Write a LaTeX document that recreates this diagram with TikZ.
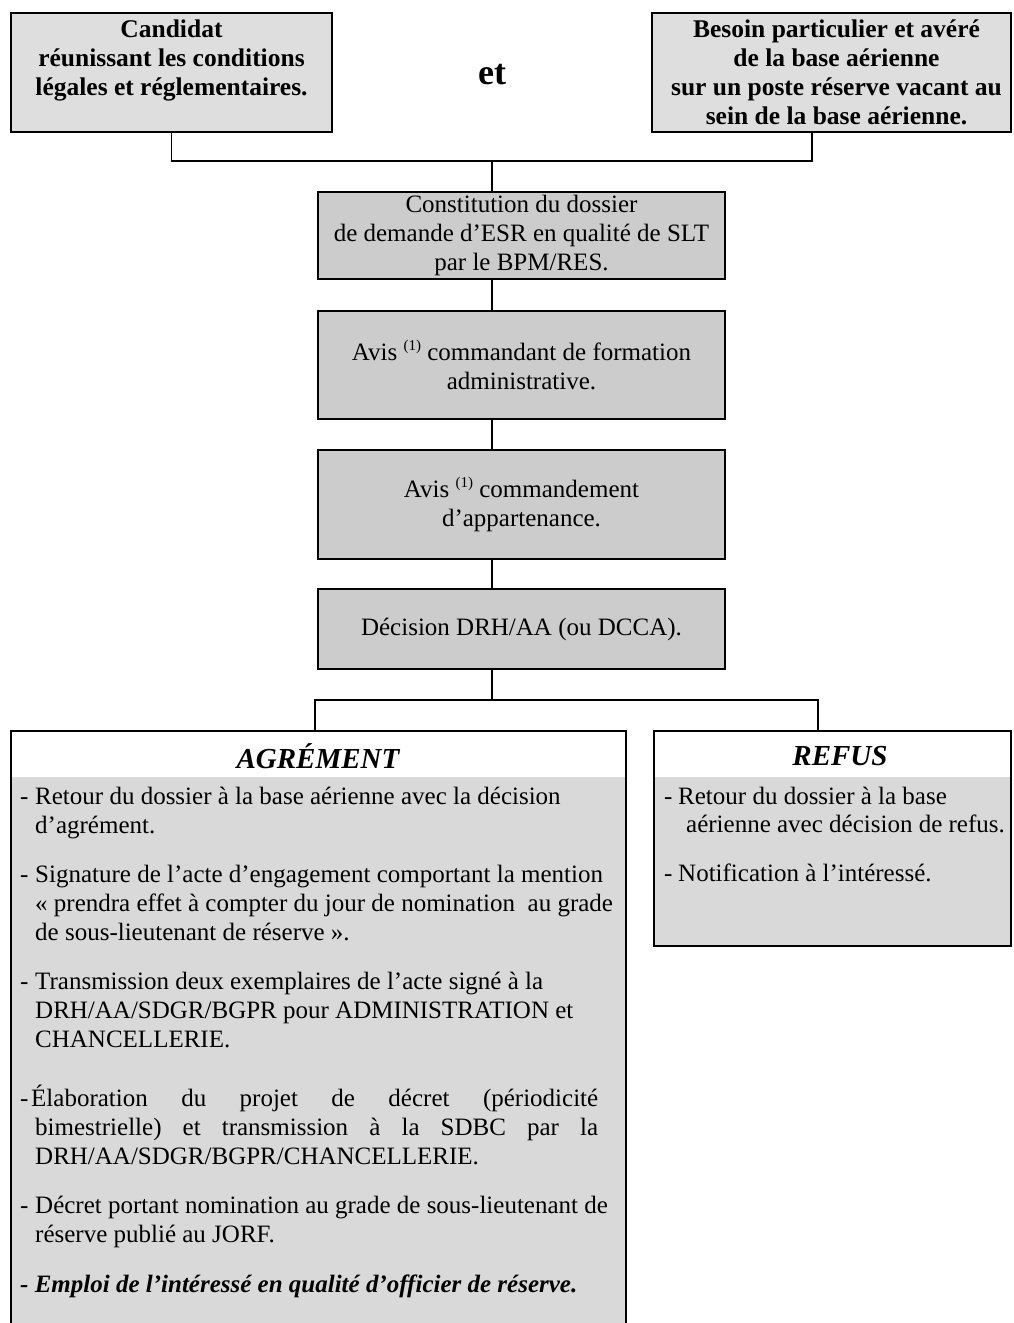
\documentclass[tikz,border=0pt]{standalone}
\usepackage{fontspec}
\setmainfont{Liberation Serif}
\usetikzlibrary{backgrounds}
\definecolor{topgray}{RGB}{222,222,222}
\definecolor{midgray}{RGB}{204,204,204}
\definecolor{bodygray}{RGB}{217,217,217}
\newcommand{\supone}{\raisebox{10pt}{\fontsize{15}{15}\selectfont(1)}}
\begin{document}
\begin{tikzpicture}[x=1pt,y=-1pt,
  boxline/.style={draw=black, line width=1.6pt},
  topbox/.style={boxline, fill=topgray, inner sep=0pt, align=center,
    font=\fontsize{25.5}{29}\selectfont\bfseries},
  midbox/.style={boxline, fill=midgray, inner sep=0pt, align=center,
    minimum width=407pt, font=\fontsize{25}{29}\selectfont},
  bigbox/.style={boxline, inner sep=0pt},
  conn/.style={line width=1.6pt},
  hdr/.style={inner sep=0pt, font=\fontsize{29}{32}\selectfont\bfseries\itshape},
  txt/.style={anchor=base west, inner sep=0pt, font=\fontsize{25}{29}\selectfont},
  txtbi/.style={txt, font=\fontsize{25}{29}\selectfont\bfseries\itshape}
]
\useasboundingbox (0,0) rectangle (1013,1323);

% top boxes
\node[topbox, minimum width=321pt, minimum height=119pt] (tl) at (171.5,72.5)
  {Candidat\\réunissant les conditions\\légales et réglementaires.\\\mbox{}};
\node[topbox, minimum width=359pt, minimum height=119pt] (tr) at (831.5,72.5)
  {\hspace*{10pt}Besoin particulier et avéré\\\hspace*{10pt}de la base aérienne\\\hspace*{10pt}sur un poste réserve vacant au\\\hspace*{10pt}sein de la base aérienne.};
\node[inner sep=0pt, font=\fontsize{36}{40}\selectfont\bfseries] (et) at (492,75) {et};

% middle chain
\node[midbox, minimum height=87pt] (b1) at (521.5,235.5)
  {Constitution du dossier\\de demande d’ESR en qualité de SLT\\par le BPM/RES.};
\node[midbox, minimum height=108pt] (b2) at (521.5,365)
  {Avis \supone{} commandant de formation\\administrative.};
\node[midbox, minimum height=109pt] (b3) at (521.5,504.5)
  {Avis \supone{} commandement\\d’appartenance.};
\node[midbox, minimum height=80pt] (b4) at (521.5,629)
  {Décision DRH/AA (ou DCCA).};

% bottom boxes
\node[bigbox, minimum width=615pt, minimum height=609pt] (ag) at (318.5,1035.5) {};
\node[bigbox, minimum width=357pt, minimum height=215pt] (rf) at (832.5,838.5) {};
\begin{scope}[on background layer]
  \fill[bodygray] ([yshift=-47pt]ag.north west) rectangle (ag.south east);
  \fill[bodygray] ([yshift=-47pt]rf.north west) rectangle (rf.south east);
\end{scope}
\node[hdr] (agh) at (318,756) {AGRÉMENT};
\node[hdr] (rfh) at (840,756) {REFUS};

% connector coordinates
\coordinate (jt) at (492,161);
\coordinate (trx) at (812,132);
\coordinate (jb) at (492,700);
\coordinate (agx) at (315,731);
\coordinate (rfx) at (818,731);

\draw[conn] (tl.south) |- (jt) -| (trx);
\draw[conn] (jt) -- (jt |- b1.north);
\draw[conn] (b1.south -| jt) -- (b2.north -| jt);
\draw[conn] (b2.south -| jt) -- (b3.north -| jt);
\draw[conn] (b3.south -| jt) -- (b4.north -| jt);
\draw[conn] (b4.south -| jt) -- (jb);
\draw[conn] (agx) |- (jb) -| (rfx);

% AGREMENT text
\node[txt] (d1) at (20,804) {-};
\node[txt] (a1a) at (35,804) {Retour du dossier à la base aérienne avec la décision};
\node[txt] (a1b) at (35,833) {d’agrément.};
\node[txt] (d2) at (20,882) {-};
\node[txt] (a2a) at (35,882) {Signature de l’acte d’engagement comportant la mention};
\node[txt] (a2b) at (35,911) {« prendra effet à compter du jour de nomination \ au grade};
\node[txt] (a2c) at (35,940) {de sous-lieutenant de réserve ».};
\node[txt] (d3) at (20,989) {-};
\node[txt] (a3a) at (35,989) {Transmission deux exemplaires de l’acte signé à la};
\node[txt] (a3b) at (35,1018) {DRH/AA/SDGR/BGPR pour ADMINISTRATION et};
\node[txt] (a3c) at (35,1047) {CHANCELLERIE.};
\node[txt] (d4) at (20,1106) {-};
\node[txt] (a4a) at (31,1106) {\makebox[567pt][s]{Élaboration du projet de décret (périodicité}};
\node[txt] (a4b) at (35,1135) {\makebox[563pt][s]{bimestrielle) et transmission à la SDBC par la}};
\node[txt] (a4c) at (35,1164) {DRH/AA/SDGR/BGPR/CHANCELLERIE.};
\node[txt] (d5) at (20,1213) {-};
\node[txt] (a5a) at (35,1213) {Décret portant nomination au grade de sous-lieutenant de};
\node[txt] (a5b) at (35,1242) {réserve publié au JORF.};
\node[txtbi] (a6) at (20,1292) {- Emploi de l’intéressé en qualité d’officier de réserve.};

% REFUS text
\node[txt] (d7) at (664,804) {-};
\node[txt] (r1a) at (678,804) {Retour du dossier à la base};
\node[txt] (r1b) at (686,832) {aérienne avec décision de refus.};
\node[txt] (d8) at (664,881) {-};
\node[txt] (r2) at (678,881) {Notification à l’intéressé.};
\end{tikzpicture}
\end{document}
